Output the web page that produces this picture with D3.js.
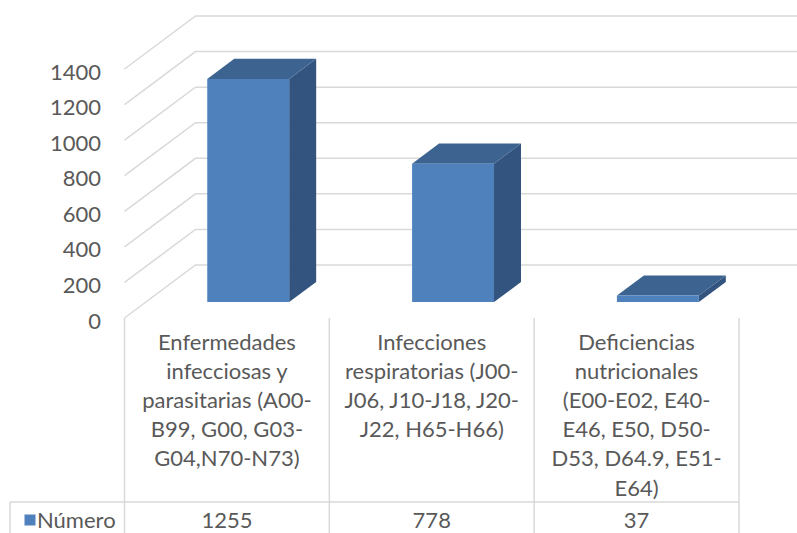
<!DOCTYPE html>
<html>
<head>
<meta charset="utf-8">
<script src="https://cdn.jsdelivr.net/npm/d3@7"></script>
<style>
  html, body { margin: 0; padding: 0; background: #ffffff; }
  svg { display: block; }
  text { font-family: Lato, "Open Sans", sans-serif; fill: #595959; }
</style>
</head>
<body>
<svg id="chart" width="797" height="533"></svg>
<script>
// ---- data ----
const categories = ["Enfermedades", "Infecciones", "Deficiencias"];
const categoryLines = [
  ["Enfermedades", "infecciosas y", "parasitarias (A00-", "B99, G00, G03-", "G04,N70-N73)"],
  ["Infecciones", "respiratorias (J00-", "J06, J10-J18, J20-", "J22, H65-H66)"],
  ["Deficiencias", "nutricionales", "(E00-E02, E40-", "E46, E50, D50-", "D53, D64.9, E51-", "E64)"]
];
const seriesName = "Número";
const values = [1255, 778, 37];
const yTicks = [0, 200, 400, 600, 800, 1000, 1200, 1400];

// ---- layout ----
const svg = d3.select("#chart");
const W = 797, H = 533;
const plotLeft = 124.5, plotRight = 739;
const depthX = 71, depthY = 53;          // oblique depth vector of the walls
const barF0 = 0.30, barF1 = 0.68;        // bar front/back depth fractions
const fontSize = 22;
const gridColor = "#D9D9D9";

const y = d3.scaleLinear().domain([0, 1400]).range([318, 69]);
const xCol = d3.scaleBand().domain(categories).range([plotLeft, plotRight]).padding(0);
const xBar = d3.scaleBand().domain(categories).range([plotLeft, plotRight])
  .paddingInner(0.6).paddingOuter(0.3);

const P = (x, yy, f) => [x + f * depthX, yy - f * depthY];

// ---- walls / gridlines ----
const grid = svg.append("g").attr("fill", "none").attr("stroke", gridColor).attr("stroke-width", 1.5);
yTicks.forEach(t => {
  const a = P(plotLeft, y(t), 0), b = P(plotLeft, y(t), 1);
  grid.append("path").attr("d", `M${a[0]},${a[1]}L${b[0]},${b[1]}L${W},${b[1]}`);
});

// ---- bars ----
const bars = svg.append("g");
categories.forEach((c, i) => {
  const x0 = xBar(c), x1 = x0 + xBar.bandwidth();
  const yt = y(values[i]), yb = y(0);
  const fbl = P(x0, yb, barF0), fbr = P(x1, yb, barF0);
  const ftl = P(x0, yt, barF0), ftr = P(x1, yt, barF0);
  const btl = P(x0, yt, barF1), btr = P(x1, yt, barF1), bbr = P(x1, yb, barF1);
  const poly = pts => "M" + pts.map(p => p.join(",")).join("L") + "Z";
  bars.append("path").attr("d", poly([fbr, ftr, btr, bbr])).attr("fill", "#32547E");
  bars.append("path").attr("d", poly([ftl, ftr, btr, btl])).attr("fill", "#3D6491");
  bars.append("path").attr("d", poly([fbl, fbr, ftr, ftl])).attr("fill", "#4F81BD");
});

// ---- value axis labels ----
const axis = svg.append("g").attr("transform", "translate(101,3)")
  .call(d3.axisLeft(y).tickValues(yTicks).tickFormat(d3.format("d")).tickSize(0).tickPadding(0));
axis.select(".domain").remove();
axis.selectAll("text")
  .attr("fill", "#595959")
  .style("font-family", "Lato, 'Open Sans', sans-serif")
  .style("font-size", fontSize + "px");

// ---- data table / category grid ----
const tbl = svg.append("g").attr("stroke", gridColor).attr("stroke-width", 1.5).attr("fill", "none");
const colEdges = categories.map(c => xCol(c)).concat([plotRight]);
colEdges.forEach(x => tbl.append("line").attr("x1", x).attr("x2", x).attr("y1", 318).attr("y2", H));
tbl.append("line").attr("x1", 10).attr("x2", plotRight).attr("y1", 502).attr("y2", 502);
tbl.append("line").attr("x1", 10).attr("x2", 10).attr("y1", 502).attr("y2", H);

// category labels
const lineH = 29.2;
const catG = svg.append("g").style("font-size", fontSize + "px").attr("text-anchor", "middle");
categories.forEach((c, i) => {
  const cx = xCol(c) + xCol.bandwidth() / 2;
  categoryLines[i].forEach((ln, j) => {
    catG.append("text").attr("x", cx).attr("y", 349.5 + j * lineH).text(ln);
  });
  catG.append("text").attr("x", cx).attr("y", 527.5).text(values[i]);
});

// legend key
svg.append("rect").attr("x", 24.5).attr("y", 514.5).attr("width", 11).attr("height", 11).attr("fill", "#4F81BD");
svg.append("text").attr("x", 37).attr("y", 527.5).style("font-size", fontSize + "px").text(seriesName);
</script>
</body>
</html>
